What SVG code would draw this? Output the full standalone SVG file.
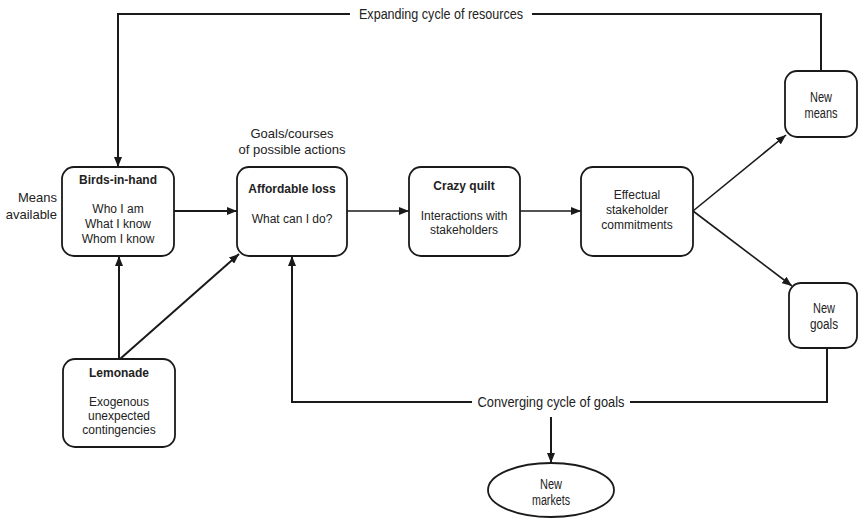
<svg xmlns="http://www.w3.org/2000/svg" width="860" height="519" viewBox="0 0 860 519">
<defs>
<marker id="ah" viewBox="0 0 10 8" refX="10" refY="4" markerWidth="10" markerHeight="8" markerUnits="userSpaceOnUse" orient="auto">
<path d="M0,0 L10,4 L0,8 Z" fill="#1a1a1a"/>
</marker>
</defs>
<style>
.box{fill:#fff;stroke:#1a1a1a;stroke-width:1.8}
.t{font-family:"Liberation Sans",Arial,sans-serif;font-size:12px;fill:#222;text-anchor:middle}
.b{font-weight:bold}
.l{font-family:"Liberation Sans",Arial,sans-serif;font-size:13px;fill:#222;text-anchor:middle}
.c{font-family:"Liberation Sans",Arial,sans-serif;font-size:14px;fill:#222;text-anchor:middle}
.ln{fill:none;stroke:#1a1a1a;stroke-width:2}
.ln2{fill:none;stroke:#1a1a1a;stroke-width:1.6}
</style>
<rect width="860" height="519" fill="#fff"/>
<g id="connectors">
<path class="ln" d="M350,14 H118 V167" marker-end="url(#ah)"/>
<path class="ln" d="M532,14 H821 V71"/>
<path class="ln" d="M472,402 H292 V256" marker-end="url(#ah)"/>
<path class="ln" d="M630,402 H827 V348"/>
<path class="ln" d="M551,417 V463" marker-end="url(#ah)"/>
<path class="ln" d="M119,359 V256" marker-end="url(#ah)"/>
<path class="ln" d="M120,359 L239,254" marker-end="url(#ah)"/>
<path class="ln" d="M174,211 H237" marker-end="url(#ah)"/>
<path class="ln2" d="M347,211 H409" marker-end="url(#ah)"/>
<path class="ln2" d="M520,211 H581" marker-end="url(#ah)"/>
<path class="ln2" d="M693,211 L786,135" marker-end="url(#ah)"/>
<path class="ln2" d="M693,211 L792,286" marker-end="url(#ah)"/>
</g>
<g id="labels">
<text class="c" x="441" y="19" textLength="164" lengthAdjust="spacingAndGlyphs">Expanding cycle of resources</text>
<text class="c" x="551" y="407" textLength="147" lengthAdjust="spacingAndGlyphs">Converging cycle of goals</text>
<text class="l" x="292" y="138">Goals/courses</text>
<text class="l" x="292" y="154">of possible actions</text>
<text class="l" x="57" y="202" style="text-anchor:end">Means</text>
<text class="l" x="57" y="219" style="text-anchor:end">available</text>
</g>
<g id="birds">
<rect class="box" x="62" y="167" width="112" height="89" rx="12"/>
<text class="t b" x="118" y="184">Birds-in-hand</text>
<text class="t" x="118" y="213">Who I am</text>
<text class="t" x="118" y="228">What I know</text>
<text class="t" x="118" y="243">Whom I know</text>
</g>
<g id="affordable">
<rect class="box" x="237" y="167" width="110" height="89" rx="12"/>
<text class="t b" x="292" y="193">Affordable loss</text>
<text class="t" x="292" y="223">What can I do?</text>
</g>
<g id="quilt">
<rect class="box" x="409" y="167" width="111" height="89" rx="12"/>
<text class="t b" x="464" y="190">Crazy quilt</text>
<text class="t" x="464" y="220">Interactions with</text>
<text class="t" x="464" y="234">stakeholders</text>
</g>
<g id="effectual">
<rect class="box" x="581" y="167" width="112" height="89" rx="12"/>
<text class="t" x="637" y="199">Effectual</text>
<text class="t" x="637" y="214">stakeholder</text>
<text class="t" x="637" y="229">commitments</text>
</g>
<g id="newmeans">
<rect class="box" x="785" y="71" width="72" height="66" rx="12"/>
<text class="c" x="821" y="102" textLength="22" lengthAdjust="spacingAndGlyphs">New</text>
<text class="c" x="821" y="118" textLength="33" lengthAdjust="spacingAndGlyphs">means</text>
</g>
<g id="newgoals">
<rect class="box" x="789" y="283" width="68" height="65" rx="12"/>
<text class="c" x="824" y="313" textLength="22" lengthAdjust="spacingAndGlyphs">New</text>
<text class="c" x="824" y="329" textLength="28" lengthAdjust="spacingAndGlyphs">goals</text>
</g>
<g id="lemonade">
<rect class="box" x="63" y="359" width="112" height="88" rx="12"/>
<text class="t b" x="119" y="377">Lemonade</text>
<text class="t" x="119" y="406">Exogenous</text>
<text class="t" x="119" y="420">unexpected</text>
<text class="t" x="119" y="434">contingencies</text>
</g>
<g id="newmarkets">
<ellipse class="box" cx="551" cy="490" rx="63" ry="27"/>
<text class="c" x="551" y="489" textLength="22" lengthAdjust="spacingAndGlyphs">New</text>
<text class="c" x="551" y="505" textLength="38" lengthAdjust="spacingAndGlyphs">markets</text>
</g>
</svg>
